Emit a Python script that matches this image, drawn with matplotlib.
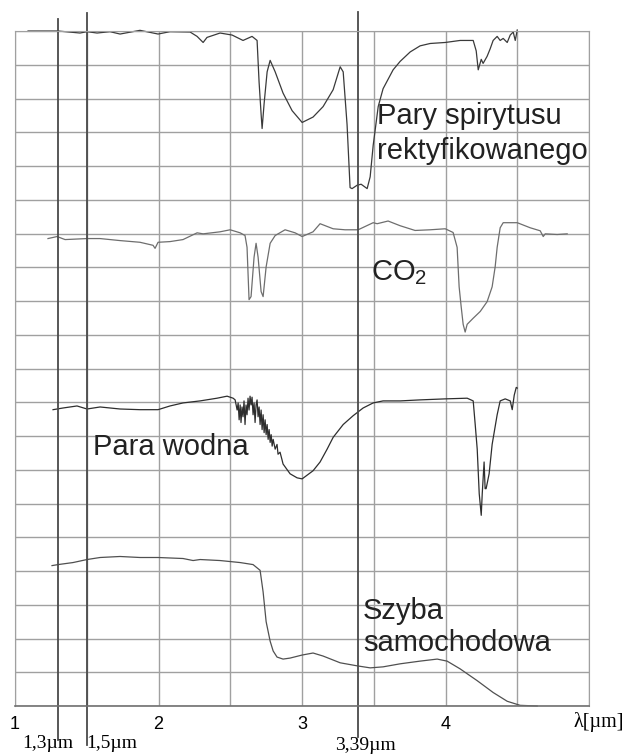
import matplotlib
matplotlib.use('Agg')
import matplotlib.pyplot as plt

plt.rcParams['font.family'] = ['Liberation Sans', 'DejaVu Sans']
plt.rcParams['mathtext.default'] = 'regular'

# wavelength [um] and transmission (in grid units, 0..20)
spirit_x = [1.091, 1.300, 1.453, 1.502, 1.572, 1.662, 1.732, 1.871, 1.997, 2.080,
            2.220, 2.269, 2.311, 2.338, 2.429, 2.513, 2.589, 2.652, 2.687, 2.701,
            2.715, 2.722, 2.736, 2.757, 2.778, 2.813, 2.868, 2.931, 3.001, 3.077,
            3.147, 3.217, 3.266, 3.287, 3.314, 3.335, 3.349, 3.384, 3.412, 3.454,
            3.475, 3.496, 3.531, 3.565, 3.600, 3.635, 3.684, 3.754, 3.823, 3.893,
            3.998, 4.102, 4.193, 4.214, 4.228, 4.249, 4.262, 4.290, 4.311, 4.332,
            4.360, 4.381, 4.402, 4.430, 4.451, 4.472, 4.486, 4.500]
spirit_y = [20.00, 20.00, 19.94, 19.98, 19.94, 19.98, 19.91, 20.02, 19.91, 19.98,
            19.97, 19.84, 19.66, 19.81, 19.94, 19.88, 19.72, 19.84, 19.72, 18.48,
            17.54, 17.11, 17.85, 18.79, 19.13, 18.79, 18.16, 17.64, 17.29, 17.45,
            17.76, 18.26, 18.94, 18.79, 17.23, 15.36, 15.33, 15.43, 15.46, 15.33,
            15.68, 16.61, 17.76, 18.29, 18.57, 18.85, 19.10, 19.38, 19.56, 19.63,
            19.66, 19.72, 19.72, 19.41, 18.85, 19.16, 19.04, 19.25, 19.47, 19.72,
            19.84, 19.72, 19.78, 19.66, 19.88, 19.97, 19.72, 20.03]

co2_x = [1.230, 1.293, 1.349, 1.502, 1.593, 1.732, 1.871, 1.962, 1.976, 1.997,
         2.080, 2.171, 2.269, 2.311, 2.429, 2.499, 2.569, 2.603, 2.617, 2.631,
         2.645, 2.666, 2.680, 2.694, 2.715, 2.729, 2.750, 2.778, 2.813, 2.882,
         2.952, 3.001, 3.077, 3.126, 3.217, 3.300, 3.391, 3.496, 3.524, 3.600,
         3.684, 3.788, 3.893, 3.998, 4.053, 4.081, 4.095, 4.109, 4.123, 4.137,
         4.151, 4.165, 4.193, 4.242, 4.290, 4.325, 4.346, 4.360, 4.381, 4.402,
         4.500, 4.590, 4.660, 4.681, 4.695, 4.778, 4.848]
co2_y = [13.85, 13.91, 13.82, 13.85, 13.85, 13.79, 13.74, 13.65, 13.56, 13.74,
         13.76, 13.82, 14.02, 13.99, 14.05, 14.11, 14.02, 13.94, 13.59, 12.04,
         12.13, 13.30, 13.71, 13.30, 12.28, 12.13, 13.01, 13.71, 13.94, 14.11,
         14.02, 13.91, 14.05, 14.29, 14.14, 14.11, 14.11, 14.32, 14.29, 14.37,
         14.23, 14.09, 14.11, 14.14, 14.03, 13.59, 12.42, 11.84, 11.31, 11.08,
         11.31, 11.37, 11.49, 11.69, 11.98, 12.42, 13.01, 13.59, 14.17, 14.32,
         14.32, 14.17, 14.08, 13.91, 13.99, 13.97, 13.99]

water_x = [1.265, 1.335, 1.432, 1.502, 1.593, 1.732, 1.871, 1.997, 2.080, 2.171,
           2.290, 2.408, 2.478, 2.520, 2.534, 2.548, 2.555, 2.562, 2.569, 2.575,
           2.582, 2.589, 2.596, 2.603, 2.610, 2.617, 2.624, 2.631, 2.638, 2.645,
           2.652, 2.659, 2.666, 2.673, 2.680, 2.687, 2.694, 2.701, 2.708, 2.715,
           2.722, 2.729, 2.736, 2.743, 2.750, 2.757, 2.764, 2.771, 2.778, 2.785,
           2.792, 2.799, 2.813, 2.826, 2.833, 2.847, 2.861, 2.868, 2.917, 2.966,
           3.001, 3.077, 3.126, 3.175, 3.217, 3.287, 3.356, 3.426, 3.496, 3.565,
           3.684, 3.823, 3.998, 4.151, 4.193, 4.207, 4.221, 4.235, 4.249, 4.256,
           4.269, 4.276, 4.283, 4.304, 4.325, 4.360, 4.381, 4.416, 4.451, 4.465,
           4.479, 4.493, 4.500]
water_y = [8.78, 8.83, 8.89, 8.80, 8.86, 8.80, 8.78, 8.78, 8.89, 8.98,
           9.04, 9.12, 9.18, 9.12, 9.07, 8.77, 8.98, 8.48, 8.92, 8.40,
           8.86, 8.57, 9.04, 8.34, 8.92, 8.63, 9.12, 8.77, 9.18, 8.92,
           9.15, 8.63, 8.98, 8.40, 8.92, 9.07, 8.57, 8.86, 8.34, 8.77,
           8.19, 8.63, 8.10, 8.48, 8.04, 8.34, 7.90, 8.19, 7.81, 8.04,
           7.70, 7.90, 7.61, 7.75, 7.46, 7.52, 7.29, 7.17, 6.88, 6.76,
           6.73, 6.97, 7.23, 7.61, 7.96, 8.34, 8.60, 8.83, 8.98, 9.04,
           9.04, 9.07, 9.10, 9.12, 9.04, 8.34, 7.61, 6.29, 5.65, 6.29,
           7.23, 6.44, 6.44, 6.88, 7.75, 8.63, 9.04, 9.10, 9.04, 8.78,
           9.21, 9.44, 9.42]

glass_x = [1.258, 1.300, 1.404, 1.502, 1.593, 1.732, 1.871, 1.997, 2.171, 2.241,
           2.290, 2.429, 2.569, 2.659, 2.708, 2.729, 2.750, 2.778, 2.799, 2.826,
           2.868, 2.917, 3.001, 3.077, 3.147, 3.266, 3.384, 3.475, 3.565, 3.684,
           3.823, 3.942, 4.011, 4.102, 4.221, 4.332, 4.430, 4.520, 4.639]
glass_y = [4.16, 4.19, 4.25, 4.34, 4.40, 4.43, 4.40, 4.40, 4.37, 4.31,
           4.34, 4.31, 4.25, 4.19, 4.02, 3.38, 2.50, 1.92, 1.63, 1.45,
           1.39, 1.42, 1.51, 1.57, 1.48, 1.28, 1.19, 1.13, 1.16, 1.25,
           1.33, 1.39, 1.33, 1.10, 0.75, 0.40, 0.14, 0.02, 0.00]

marker_lines = [1.3, 1.5, 3.39]
marker_labels = ['1,3µm', '1,5µm', '3,39µm']

fig = plt.figure(figsize=(6.23, 7.56), dpi=100)
ax = fig.add_axes([15 / 623, 50 / 756, 574 / 623, 675 / 756])
ax.set_xlim(1, 5)
ax.set_ylim(0, 20)

xt = [1 + 0.5 * i for i in range(9)]
ax.set_xticks(xt)
ax.set_xticklabels(['1', '', '2', '', '3', '', '4', '', ''], fontsize=13)
ax.set_yticks(range(21))
ax.set_yticklabels([])
ax.tick_params(length=0, pad=7)
ax.grid(True, color='#a0a0a0', lw=1.0)
for s in ['left', 'top', 'right']:
    ax.spines[s].set_color('#a0a0a0')
ax.spines['bottom'].set_color('#707070')
ax.spines['bottom'].set_linewidth(1.2)

ax.plot(spirit_x, spirit_y, color='#3a3a3a', lw=0.9, clip_on=False)
ax.plot(co2_x, co2_y, color='#6e6e6e', lw=0.9, clip_on=False)
ax.plot(water_x, water_y, color='#2e2e2e', lw=0.9, clip_on=False)
ax.plot(glass_x, glass_y, color='#505050', lw=0.9, clip_on=False)

# the long reference lines stick out of the frame
spans = [(-0.05, 1.018), (-0.058, 1.027), (-0.046, 1.028)]
for x, (lo, hi) in zip(marker_lines, spans):
    ax.axvline(x, ymin=lo, ymax=hi, color='#4a4a4a', lw=1.3, clip_on=False)

tr = ax.get_xaxis_transform()
serif = ['Liberation Serif', 'DejaVu Serif']
ax.text(1.227, -0.056, marker_labels[0], transform=tr, ha='center', va='center',
        fontsize=14, family=serif)
ax.text(1.673, -0.056, marker_labels[1], transform=tr, ha='center', va='center',
        fontsize=14, family=serif)
ax.text(3.44, -0.059, marker_labels[2], transform=tr, ha='center', va='center',
        fontsize=14, family=serif)
ax.text(4.89, -0.0237, 'λ[µm]', transform=tr, ha='left', va='center',
        fontsize=14.5, family=serif)

tc = '#222222'
ax.text(3.524, 17.23, 'Pary spirytusu', fontsize=21, color=tc, va='baseline')
ax.text(3.524, 16.20, 'rektyfikowanego', fontsize=21, color=tc, va='baseline')
ax.text(3.482, 12.63, 'CO$_2$', fontsize=21, color=tc, va='baseline')
ax.text(1.544, 7.43, 'Para wodna', fontsize=21, color=tc, va='baseline')
ax.text(3.426, 2.59, 'Szyba', fontsize=21, color=tc, va='baseline')
ax.text(3.426, 1.63, 'samochodowa', fontsize=21, color=tc, va='baseline')

fig.savefig('out.png', dpi=100)
